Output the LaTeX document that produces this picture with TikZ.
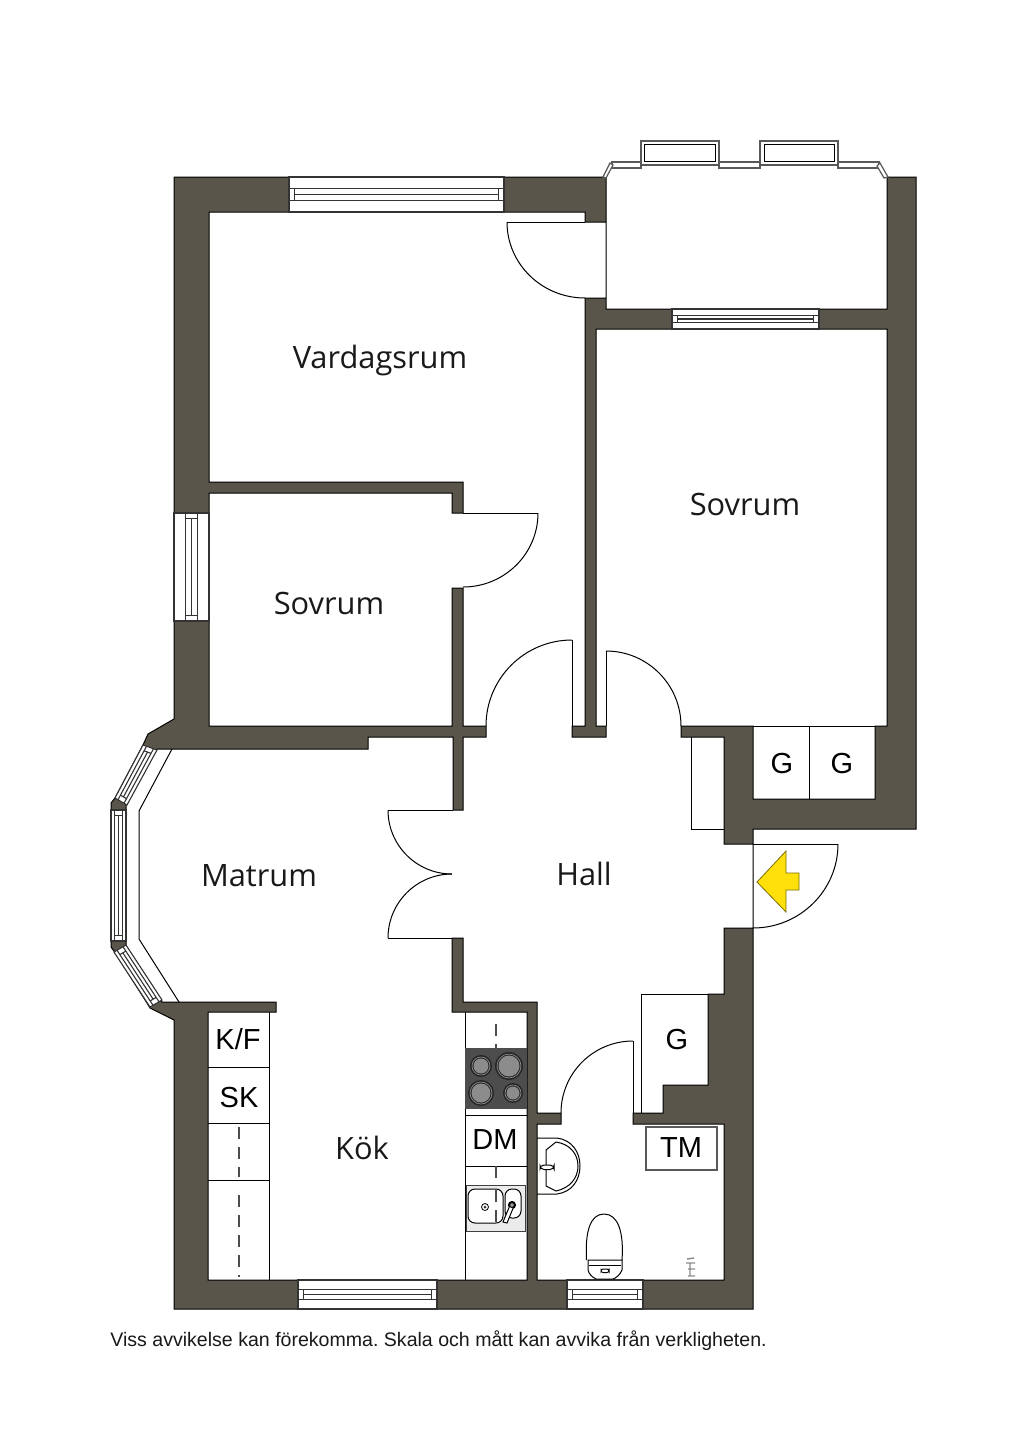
\documentclass[tikz,border=0pt]{standalone}
\usepackage{fontspec}
\setmainfont{Liberation Sans}
\newfontfamily\roomfont{Open Sans}
\usetikzlibrary{calc}
\definecolor{wallc}{HTML}{59554A}
\definecolor{hobc}{HTML}{4D4D4D}
\definecolor{burnc}{HTML}{8C8C8C}
\definecolor{arrowc}{HTML}{FFE00A}
\tikzset{
  wallmass/.style={fill=wallc,draw=black,line width=0.5pt,even odd rule,line join=miter},
  thinline/.style={draw=black,line width=0.5pt},
  greyline/.style={draw=black!65,line width=0.6pt},
  winline/.style={draw=black!80,line width=0.55pt},
  dashline/.style={draw=black!70,line width=0.6pt,dash pattern=on 6pt off 4pt},
  roomlabel/.style={font=\roomfont\fontsize{15.4}{18}\selectfont,inner sep=0pt,text=black!90},
  unitlabel/.style={font=\fontsize{14.5}{16}\selectfont,inner sep=0pt,text=black},
  burner/.style={draw=black,line width=0.45pt,fill=burnc},
}
% window between outer edge A-B and inner edge D-C; #1 = position of the first rail
\newcommand\WQ[5][.34]{%
  \coordinate (wa) at (#2);\coordinate (wb) at (#3);\coordinate (wc) at (#4);\coordinate (wd) at (#5);
  \draw[winline,fill=white] (wa)--(wb)--(wc)--(wd)--cycle;
  \coordinate (pa) at ($(wa)!#1!(wd)$);\coordinate (qa) at ($(wb)!#1!(wc)$);
  \coordinate (pb) at ($(wd)!#1!(wa)$);\coordinate (qb) at ($(wc)!#1!(wb)$);
  \coordinate (ma) at ($(pa)!.5!(pb)$);\coordinate (mb) at ($(qa)!.5!(qb)$);
  \draw[winline] (pa)--(qa) (pb)--(qb);
  \draw[winline] ($(pa)!2.6pt!(qa)$)--($(pb)!2.6pt!(qb)$) ($(qa)!2.6pt!(pa)$)--($(qb)!2.6pt!(pb)$);
  \draw[winline] ($(ma)!2.6pt!(mb)$)--($(mb)!2.6pt!(ma)$);
}
% quarter circle from P to Q with corner K
\newcommand\QA[6]{\draw[thinline] (#1,#2) .. controls ($(#1,#2)!.5523!(#5,#6)$) and ($(#3,#4)!.5523!(#5,#6)$) .. (#3,#4);}
\begin{document}
\begin{tikzpicture}[x=0.5pt,y=-0.5pt]
\useasboundingbox (0,0) rectangle (1024,1448);
\fill[white] (0,0) rectangle (1024,1448);
% walls: outer outline minus the connected interior
\path[wallmass]
 (174,177)--(606,177)--(606,309)--(887,309)--(887,177)--(916,177)--(916,829)--(753,829)
 --(753,1309)--(174,1309)--(174,1020)--(150,1008)--(147,1003)--(114,951)--(111,947)--(111,803)
 --(115,798)--(143,745)--(148,734)--(174,719)--cycle
 (209,212)--(585,212)--(585,222)--(606,222)--(606,298)--(585,298)--(585,726)--(572,726)--(572,737)
 --(606,737)--(606,726)--(596,726)--(596,329)--(887,329)--(887,726)--(875,726)--(875,799)--(753,799)
 --(753,726)--(681,726)--(681,737)--(724,737)--(724,844)--(753,844)--(753,928)--(724,928)--(724,994)
 --(708,994)--(708,1085)--(663,1085)--(663,1113)--(633,1113)--(633,1124)--(724,1124)--(724,1280)
 --(537,1280)--(537,1124)--(561,1124)--(561,1113)--(537,1113)--(537,1002)--(463,1002)--(463,938)
 --(452,938)--(452,1012)--(527,1012)--(527,1280)--(208,1280)--(208,1012)--(276,1012)--(276,1002)
 --(162,1002)--(126,946)--(126,805)--(157,749)--(368,749)--(368,737)--(453,737)--(453,810)--(463,810)
 --(463,737)--(486,737)--(486,726)--(463,726)--(463,588)--(452,588)--(452,726)--(209,726)--(209,493)
 --(452,493)--(452,513)--(463,513)--(463,482)--(209,482)--cycle;
% straight windows
\WQ{289,177}{504,177}{504,212}{289,212}
\WQ{672,309}{819,309}{819,329}{672,329}
\WQ[.34]{298,1280}{437,1280}{437,1309}{298,1309}
\WQ[.34]{567,1280}{643,1280}{643,1309}{567,1309}
\WQ[.34]{174,621}{174,513}{209,513}{209,621}
% bay windows
\WQ[.25]{115,798}{143,745}{157,750}{127,805}
\WQ[.22]{111,941}{111,810}{126,810}{126,941}
\WQ[.25]{150,1007}{114,952}{126,945}{162,1000}
\draw[thinline] (179,1002)--(139,939)--(139,811)--(172,749);
% balcony railing
\draw[greyline,fill=white] (612,162)rectangle(641,168) (719,162)rectangle(760,168) (838,162)rectangle(879,168);
\draw[greyline,fill=white] (641,141)rectangle(719,165) (760,141)rectangle(838,165);
\draw[thinline,fill=white] (644,144)rectangle(715,161) (764,144)rectangle(834,161);
\draw[greyline,fill=white] (603,177)--(610,163)--(613,165)--(606,178)--cycle;
\draw[greyline,fill=white] (880,163)--(888,177)--(884,178)--(877,166)--cycle;
% doors
\QA{507}{222}{585}{298}{507}{298}
\draw[thinline] (507,222)--(585,222);
\QA{538}{513}{463}{587}{538}{587}
\draw[thinline] (463,513)--(538,513);
\QA{572}{640}{486}{726}{486}{640}
\draw[thinline] (572,640)--(572,726);
\QA{606}{651}{681}{726}{681}{651}
\draw[thinline] (606,651)--(606,726);
\QA{388}{810}{452}{874}{388}{874}
\QA{388}{938}{452}{874}{388}{874}
\draw[thinline] (388,810)--(453,810) (388,938)--(452,938);
\QA{633}{1041}{561}{1113}{561}{1041}
\draw[thinline] (633,1041)--(633,1113);
\QA{838}{844}{753}{928}{838}{928}
\draw[thinline] (753,844)--(838,844);
% storage lines
\draw[thinline] (753,726)--(875,726) (809,726)--(809,799);
\draw[thinline] (691,737)--(691,829)--(724,829);
\draw[thinline] (708,994)--(641,994)--(641,1113);
% kitchen, left units
\draw[thinline] (269,1012)--(269,1280) (208,1067)--(269,1067) (208,1123)--(269,1123) (208,1180)--(269,1180);
\draw[dashline] (239,1127)--(239,1177) (239,1195)--(239,1277);
% kitchen, right units
\draw[thinline] (465,1012)--(465,1280) (465,1115)--(527,1115) (465,1166)--(527,1166);
\draw[dashline] (496,1024)--(496,1048) (496,1166)--(496,1185);
\fill[hobc] (465,1048) rectangle (527,1109);
\foreach \cx/\cy/\rr in {481/1066/11,509/1066/14,481/1093/13,513/1093/10}{
  \fill[black!85] (\cx,\cy) circle [radius=\rr];
  \draw[burnc,line width=0.35pt] (\cx,\cy) circle [radius=\rr-2];
  \fill[burnc] (\cx,\cy) circle [radius=\rr-3.5];
}
% sink
\draw[draw=black!75,line width=0.5pt,fill=black!8] (466,1185) rectangle (525,1231);
\draw[thinline,fill=white,rounded corners=3.5pt] (468,1189) rectangle (503,1223);
\draw[thinline,fill=white,rounded corners=3.5pt] (505,1189) rectangle (521,1218);
\draw[dashline] (496,1190)--(496,1228);
\draw[thinline,fill=white,line width=0.4pt] (485,1207) circle [radius=3.5];
\fill[black!80] (485,1207) circle [radius=1.5];
\draw[black,line width=1pt] (512,1205) circle [radius=3];
\draw[thinline,fill=white] (510.5,1204)--(514,1206)--(507,1223)--(503,1222)--cycle;
\draw[thinline,fill=black!40] (512,1205) circle [radius=2.5];
% WC basin
\draw[thinline] (537,1138)--(557,1138) .. controls (572,1140) and (580,1152) .. (580,1166) .. controls (580,1180) and (572,1192) .. (557,1194)--(537,1194);
\draw[thinline] (546,1150)--(556,1142) .. controls (570,1144) and (578,1154) .. (578,1166) .. controls (578,1178) and (570,1188) .. (556,1191)--(546,1186)--cycle;
\draw[thinline,fill=white,rounded corners=2pt] (540,1165) rectangle (554,1169.5);
% toilet
\draw[thinline] (586.5,1260) .. controls (585,1232) and (590,1214) .. (604,1214) .. controls (618,1214) and (624,1232) .. (622,1260);
\draw[thinline,fill=white] (588,1260)--(622,1260)--(622,1270) .. controls (620,1275) and (616,1278) .. (613,1279)--(596,1279) .. controls (592,1277) and (589,1274) .. (588,1270)--cycle;
\draw[thinline] (589,1265)--(621,1265);
\draw[thinline,fill=white,rounded corners=1pt] (601,1269) rectangle (609,1272.5);
% floor drain
\draw[black!45,line width=0.7pt] (687,1259)--(694,1258) (686,1263)--(695,1263) (690,1263)--(690,1275) (688,1269)--(695,1269) (688,1276)--(695,1276);
% TM box
\draw[greyline,fill=white] (646,1127) rectangle (717,1170);
% entry arrow
\draw[draw=black!30!arrowc!70!black,fill=arrowc,line width=0.4pt] (757,882)--(786,851)--(786,873)--(799,873)--(799,890)--(786,890)--(786,912)--cycle;
% labels
\node[roomlabel] (vardag) at (380,360) {Vardagsrum};
\node[roomlabel] (sovrum1) at (745,504.5) {Sovrum};
\node[roomlabel] (sovrum2) at (329,603.5) {Sovrum};
\node[roomlabel] (matrum) at (259,875.5) {Matrum};
\node[roomlabel] (hall) at (584,873.5) {Hall};
\node[roomlabel] (kok) at (362,1148) {Kök};
\node[unitlabel] (g1) at (782,763.5) {G};
\node[unitlabel] (g2) at (842,763.5) {G};
\node[unitlabel] (g3) at (677,1039.5) {G};
\node[unitlabel] (kf) at (238,1039) {K/F};
\node[unitlabel] (sk) at (239,1097.5) {SK};
\node[unitlabel] (dm) at (495,1139.5) {DM};
\node[unitlabel] (tm) at (681,1147.5) {TM};
\node[font=\frenchspacing\fontsize{9.78}{11}\selectfont,inner sep=0pt,anchor=west,text=black!90] (note) at (110,1341) {Viss avvikelse kan förekomma. Skala och mått kan avvika från verkligheten.};
\end{tikzpicture}
\end{document}
